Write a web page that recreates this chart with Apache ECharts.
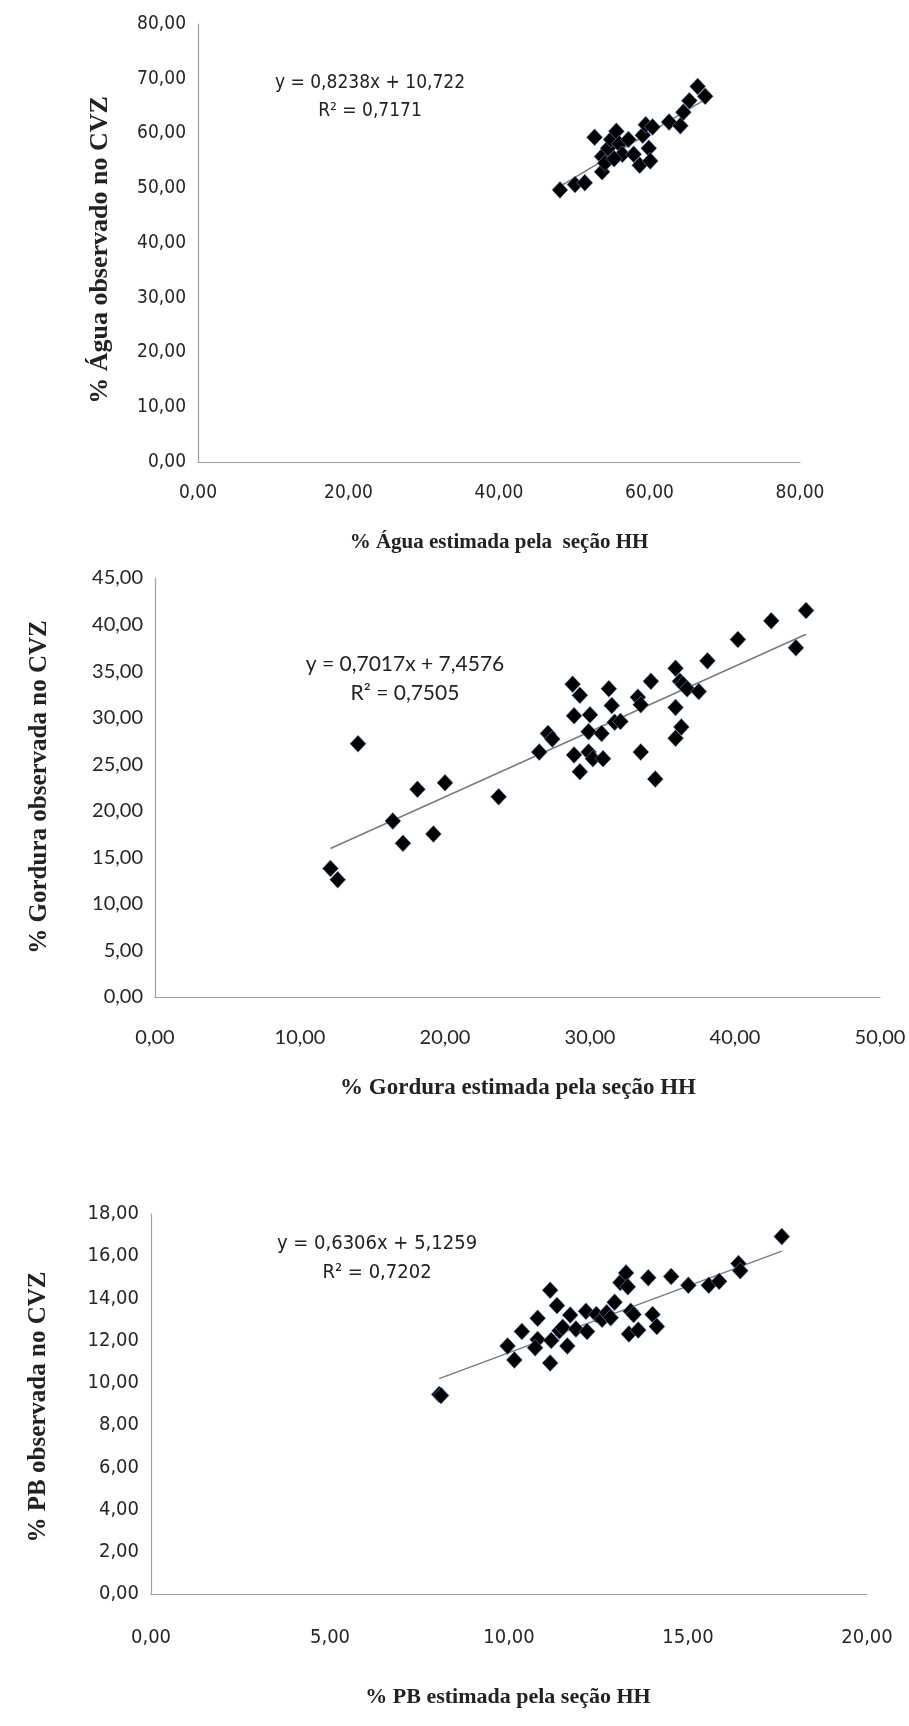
<!DOCTYPE html>
<html>
<head>
<meta charset="utf-8">
<script src="https://cdn.jsdelivr.net/npm/echarts@6/dist/echarts.min.js"></script>
<style>
  html, body { margin: 0; padding: 0; background: #fff; }
  #chart { width: 909px; height: 1726px; }
</style>
</head>
<body>
<div id="chart"></div>
<script>
// % Água: estimada (x) e observada (y)
var aguaX = [48.1, 50.1, 51.4, 52.7, 53.7, 53.7, 54.5, 54.9, 55.6, 56.0, 56.4, 57.2, 57.9, 58.7,
             59.1, 59.5, 59.9, 60.1, 60.4, 62.6, 64.1, 64.5, 65.3, 66.4, 67.4, 54.1, 55.3];
var aguaY = [49.7, 50.7, 51.0, 59.3, 53.0, 55.8, 57.3, 58.9, 60.4, 58.1, 56.2, 58.9, 56.2, 54.2,
             59.7, 61.6, 57.3, 55.0, 61.2, 62.1, 61.4, 63.9, 66.0, 68.6, 66.8, 54.6, 55.4];
var aguaTrend = [[48.1, 50.35], [67.4, 66.25]];

// % Gordura
var gordX = [12.1, 12.6, 14.0, 16.4, 17.1, 18.1, 19.2, 20.0, 23.7, 26.5, 27.1, 27.4, 28.8, 29.3, 28.9,
             28.9, 29.3, 29.9, 30.0, 29.9, 30.2, 30.8, 30.9, 31.3, 31.5, 31.7, 32.1, 33.3, 33.5, 33.5,
             34.2, 34.5, 35.9, 35.9, 35.9, 36.2, 36.4, 36.3, 36.7, 37.5, 38.1, 40.2, 42.5, 44.2, 44.9];
var gordY = [13.8, 12.6, 27.2, 18.9, 16.5, 22.3, 17.5, 23.0, 21.5, 26.3, 28.3, 27.7, 33.6, 32.4, 30.2,
             26.0, 24.2, 28.5, 30.3, 26.3, 25.6, 28.3, 25.6, 33.1, 31.3, 29.5, 29.6, 32.2, 31.4, 26.3,
             33.9, 23.4, 35.3, 31.1, 27.8, 33.9, 33.6, 29.0, 33.1, 32.8, 36.1, 38.4, 40.4, 37.5, 41.5];
var gordTrend = [[12.1, 15.95], [44.9, 38.96]];

// % PB
var pbX = [8.05, 8.1, 9.96, 10.15, 10.36, 10.8, 10.8, 10.73, 11.15, 11.15, 11.18, 11.34, 11.41, 11.5,
           11.63, 11.71, 11.87, 12.15, 12.18, 12.44, 12.6, 12.73, 12.84, 12.95, 13.11, 13.27, 13.32,
           13.4, 13.35, 13.48, 13.61, 13.89, 14.01, 14.13, 14.53, 15.01, 15.58, 15.87, 16.41, 16.46, 17.62];
var pbY = [9.45, 9.4, 11.75, 11.09, 12.44, 13.06, 12.06, 11.66, 14.39, 10.94, 12.01, 13.66, 12.47, 12.63,
           11.75, 13.21, 12.55, 13.39, 12.43, 13.24, 13.01, 13.32, 13.09, 13.82, 14.75, 15.21, 14.55,
           13.39, 12.32, 13.24, 12.5, 14.98, 13.24, 12.67, 15.04, 14.62, 14.62, 14.81, 15.65, 15.31, 16.93];
var pbTrend = [[8.05, 10.2], [17.62, 16.24]];

var aguaTicks = [0, 80, 10, 20];   // ymin, ymax, yinterval, xinterval
var gordTicks = [0, 45, 5, 10];
var pbTicks = [0, 18, 2, 5];

function pares(xs, ys) {
  var out = [];
  for (var i = 0; i < xs.length; i++) out.push([xs[i], ys[i]]);
  return out;
}
function virgula(v) { return v.toFixed(2).replace('.', ','); }

var grids = [
  { left: 198, top: 24, width: 602, height: 438 },
  { left: 155, top: 578, width: 725, height: 419 },
  { left: 151, top: 1214, width: 716, height: 380 }
];
var narrow = "'DejaVu Sans Condensed', Lato, sans-serif";
var tickFont = [narrow, 'Lato', narrow];
var tickSize = [19, 20, 20];
var xMargin = [22, 31, 34];
var xMax = [80, 50, 20];
var ticks = [aguaTicks, gordTicks, pbTicks];

var xAxes = [], yAxes = [];
for (var g = 0; g < 3; g++) {
  var lab = { color: '#262626', fontFamily: tickFont[g], fontSize: tickSize[g], formatter: virgula };
  xAxes.push({
    gridIndex: g, type: 'value', min: 0, max: xMax[g], interval: ticks[g][3],
    axisLine: { lineStyle: { color: '#a0a0a0', width: 1.2 } },
    axisTick: { show: false }, splitLine: { show: false },
    axisLabel: Object.assign({ margin: xMargin[g] }, lab)
  });
  yAxes.push({
    gridIndex: g, type: 'value', min: ticks[g][0], max: ticks[g][1], interval: ticks[g][2],
    axisLine: { show: true, lineStyle: { color: '#a0a0a0', width: 1.2 } },
    axisTick: { show: false }, splitLine: { show: false },
    axisLabel: Object.assign({ margin: 12 }, lab)
  });
}

function pontos(g, data) {
  return {
    type: 'scatter', xAxisIndex: g, yAxisIndex: g, data: data,
    symbol: 'diamond', symbolSize: [16, 17], z: 3,
    itemStyle: { color: '#000', opacity: 1, borderColor: '#6a9bd3', borderWidth: 0.6 }
  };
}
function tendencia(g, data) {
  return {
    type: 'line', xAxisIndex: g, yAxisIndex: g, data: data,
    symbol: 'none', z: 2, silent: true,
    lineStyle: { color: '#7a7a7a', width: 1.5 }
  };
}

function texto(x, y, t, font, size, weight, rot) {
  return {
    type: 'text', x: x, y: y, rotation: rot || 0,
    style: {
      text: t, fontFamily: font, fontSize: size, fontWeight: weight || 'normal',
      fill: '#222', align: 'center', verticalAlign: 'middle'
    }
  };
}

var option = {
  animation: false,
  grid: grids,
  xAxis: xAxes,
  yAxis: yAxes,
  series: [
    tendencia(0, aguaTrend), pontos(0, pares(aguaX, aguaY)),
    tendencia(1, gordTrend), pontos(1, pares(gordX, gordY)),
    tendencia(2, pbTrend), pontos(2, pares(pbX, pbY))
  ],
  graphic: [
    texto(370, 83, 'y = 0,8238x + 10,722', narrow, 19),
    texto(370, 111, 'R² = 0,7171', narrow, 19),
    texto(499, 543, '% Água estimada pela  seção HH', 'Liberation Serif', 21, 'bold'),
    texto(100, 250, '% Água observado no CVZ', 'Liberation Serif', 26, 'bold', Math.PI / 2),

    texto(405, 664, 'y = 0,7017x + 7,4576', 'Lato', 21),
    texto(405, 693, 'R² = 0,7505', 'Lato', 21),
    texto(518, 1088, '% Gordura estimada pela seção HH', 'Liberation Serif', 23, 'bold'),
    texto(40, 787, '% Gordura observada no CVZ', 'Liberation Serif', 25, 'bold', Math.PI / 2),

    texto(377, 1244, 'y = 0,6306x + 5,1259', narrow, 20),
    texto(377, 1273, 'R² = 0,7202', narrow, 20),
    texto(508, 1697, '% PB estimada pela seção HH', 'Liberation Serif', 22, 'bold'),
    texto(39, 1407, '% PB observada no CVZ', 'Liberation Serif', 25, 'bold', Math.PI / 2)
  ]
};

var chart = echarts.init(document.getElementById('chart'));
chart.setOption(option);
</script>
</body>
</html>
